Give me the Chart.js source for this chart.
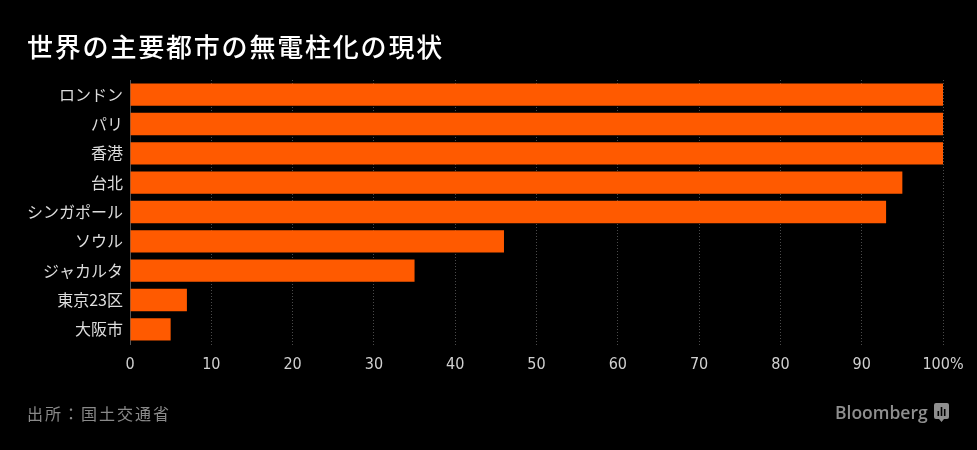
<!DOCTYPE html>
<html>
<head>
<meta charset="utf-8">
<script src="https://cdn.jsdelivr.net/npm/chart.js@4.4.0/dist/chart.umd.min.js"></script>
<style>
  html, body { margin: 0; padding: 0; background: #000; }
  #wrap { position: relative; width: 977px; height: 450px; overflow: hidden; background: #000; }
  #chart { position: absolute; left: 0; top: 0; }
  #title { position: absolute; left: 27px; top: 27px; color: #fff; font: 500 26px "Noto Sans CJK JP"; letter-spacing: 1.8px; white-space: nowrap; }
  #source { position: absolute; left: 27px; top: 401px; color: #8a8a8a; font: 16px "Noto Sans CJK JP"; letter-spacing: 2px; }
  #logo { position: absolute; left: 835px; top: 400px; color: #8f8f8f; font: 600 17.5px "Open Sans"; white-space: nowrap; }
  #logo svg { margin-left: 6px; vertical-align: -4px; }
</style>
</head>
<body>
<div id="wrap">
  <canvas id="chart" width="977" height="450"></canvas>
  <div id="title">世界の主要都市の無電柱化の現状</div>
  <div id="source">出所：国土交通省</div>
  <div id="logo">Bloomberg<svg width="15" height="20" viewBox="0 0 15 20"><path d="M2 0h11a2 2 0 0 1 2 2v12a2 2 0 0 1-2 2h-3l-2.5 3l-2.5-3h-3a2 2 0 0 1-2-2v-12a2 2 0 0 1 2-2z" fill="#8f8f8f"/><rect x="3.5" y="8" width="1.6" height="5" fill="#000"/><rect x="6.7" y="4" width="1.6" height="9" fill="#000"/><rect x="9.9" y="6" width="1.6" height="7" fill="#000"/></svg></div>
</div>
<script>
'use strict';

const cities = ['ロンドン', 'パリ', '香港', '台北', 'シンガポール', 'ソウル', 'ジャカルタ', '東京23区', '大阪市'];
const rates = [100, 100, 100, 95, 93, 46, 35, 7, 5];
const xTicks = [0, 10, 20, 30, 40, 50, 60, 70, 80, 90, 100];

const ctx = document.getElementById('chart').getContext('2d');
const chart = new Chart(ctx, {
    type: 'bar',
    data: {
        labels: cities,
        datasets: [
            {
                data: rates,
                backgroundColor: '#ff5a00',
                borderWidth: 0,
                barPercentage: 0.76,
                categoryPercentage: 1
            }
        ]
    },
    options: {
        indexAxis: 'y',
        responsive: false,
        devicePixelRatio: 1,
        animation: false,
        layout: {
            padding: { left: 0, right: 34, top: 80, bottom: 76 }
        },
        scales: {
            x: {
                min: 0,
                max: 100,
                afterBuildTicks: (scale) => {
                    scale.ticks = xTicks.map((v) => ({ value: v }));
                },
                afterFit: (scale) => { scale.height = 30; },
                ticks: {
                    color: '#d0d0d0',
                    font: { family: '"Liberation Sans Narrow", "DejaVu Sans Condensed"', size: 16 },
                    padding: 8,
                    maxRotation: 0,
                    callback: (v) => (v === 100 ? '100%' : v)
                },
                grid: {
                    color: '#4a4a4a',
                    lineWidth: 1,
                    tickLength: 3,
                    tickBorderDash: [1, 2]
                },
                border: { display: false, dash: [1, 2] }
            },
            y: {
                afterFit: (scale) => { scale.width = 130; },
                ticks: {
                    color: '#dddddd',
                    font: { family: 'Noto Sans CJK JP', size: 16 },
                    padding: 7
                },
                grid: { display: false, drawTicks: false },
                border: { display: true, color: '#555555', width: 1 }
            }
        },
        plugins: {
            legend: { display: false },
            tooltip: { enabled: false }
        }
    }
});
</script>
</body>
</html>
